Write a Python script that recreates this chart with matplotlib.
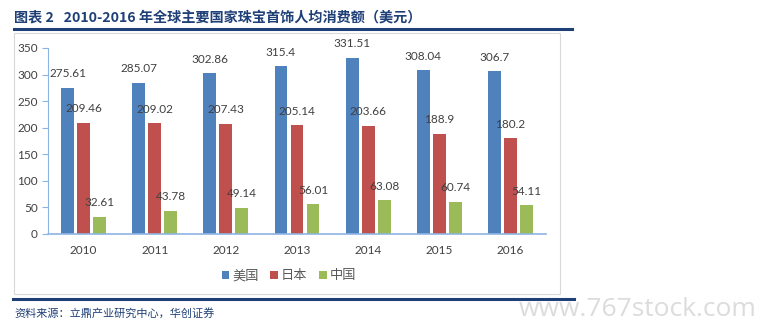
import matplotlib.pyplot as plt
import numpy as np
from matplotlib.patches import Rectangle
from matplotlib.lines import Line2D

plt.rcParams['font.family'] = ['Lato', 'Noto Sans CJK SC', 'DejaVu Sans']

# ===== DATA =====
years = ['2010', '2011', '2012', '2013', '2014', '2015', '2016']
usa = [275.61, 285.07, 302.86, 315.4, 331.51, 308.04, 306.7]
japan = [209.46, 209.02, 207.43, 205.14, 203.66, 188.9, 180.2]
china = [32.61, 43.78, 49.14, 56.01, 63.08, 60.74, 54.11]
series_names = ['美国', '日本', '中国']
series_colors = ['#4F81BD', '#C0504D', '#9BBB59']

title = '图表 2   2010-2016 年全球主要国家珠宝首饰人均消费额（美元）'
source = '资料来源：立鼎产业研究中心，华创证券'

W, H = 757, 332
fig = plt.figure(figsize=(W / 100, H / 100), dpi=100)

# outer frame of the chart area
fig.patches.append(Rectangle((14 / W, 1 - 294 / H), (560 - 14) / W, (294 - 33) / H,
                             transform=fig.transFigure, fill=False, edgecolor='#d9d9d9', lw=0.8))
# title rule and source rule
fig.add_artist(Line2D([14 / W, 572 / W], [1 - 29 / H] * 2, transform=fig.transFigure, color='#1F3F77', lw=2.2))
fig.add_artist(Line2D([13 / W, 574 / W], [1 - 299 / H] * 2, transform=fig.transFigure, color='#1F3F77', lw=2.2))

fig.text(14 / W, 1 - 18 / H, title, fontsize=10.2, fontweight='bold', color='#1F3F77',
         va='center', ha='left', family=['Noto Sans CJK SC'])
fig.text(14 / W, 1 - 313 / H, source, fontsize=8, color='#1F3F77', va='center', ha='left',
         family=['Noto Sans CJK SC'])
fig.text(757 / W, 1 - 310 / H, 'www.767stock.com', fontsize=19, color='#dcdcdc', va='center', ha='right',
         family=['Open Sans'])

ax = fig.add_axes([48 / W, 1 - 234 / H, (546 - 48) / W, (234 - 48) / H])

x = np.arange(len(years))
bw = 0.18
step = 0.225
for i, (vals, color) in enumerate(zip([usa, japan, china], series_colors)):
    pos = x + (i - 1) * step
    ax.bar(pos, vals, width=bw, color=color, label=series_names[i], zorder=2)
    for px, v in zip(pos, vals):
        ax.annotate(f'{v:g}', (px, v), xytext=(0, 10), textcoords='offset points',
                    ha='center', va='center', fontsize=8.5, color='#404040')

ax.set_xlim(-0.5, len(years) - 0.5)
ax.set_ylim(0, 350)
ax.set_yticks(range(0, 351, 50))
ax.set_xticks(x)
ax.set_xticklabels(years)

for side in ['top', 'right']:
    ax.spines[side].set_visible(False)
ax.spines['left'].set_color('#8EB4E3')
ax.spines['bottom'].set_color('#8EB4E3')
ax.spines['bottom'].set_linewidth(1.2)
ax.tick_params(axis='y', colors='#8EB4E3', labelcolor='#404040', labelsize=8.5, length=4, direction='out')
ax.tick_params(axis='x', length=0, labelcolor='#404040', labelsize=8.5, pad=8)

handles, labels = ax.get_legend_handles_labels()
leg = fig.legend(handles, labels, loc='center', bbox_to_anchor=(289 / W, 1 - 276 / H), ncol=3,
                 frameon=False, handlelength=0.6, handleheight=0.6, handletextpad=0.2,
                 columnspacing=0.9, prop={'family': ['Noto Sans CJK SC'], 'size': 9.5})
for t in leg.get_texts():
    t.set_color('#595959')

fig.savefig('out.png', dpi=100)
